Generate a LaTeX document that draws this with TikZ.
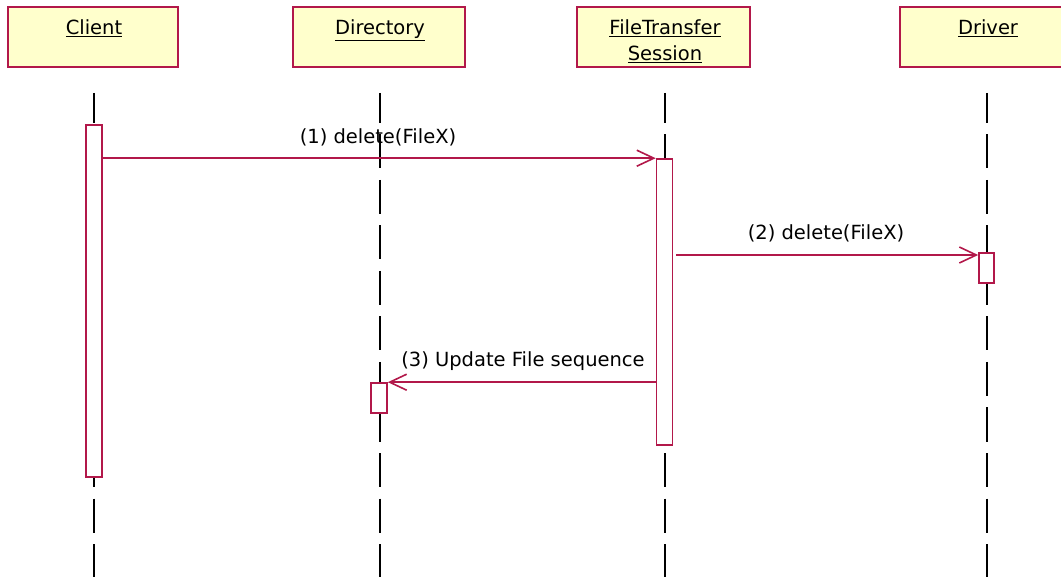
\documentclass[tikz,border=0pt]{standalone}
\usepackage{fontspec}
\setmainfont{DejaVu Sans}
\usetikzlibrary{arrows.meta}
\definecolor{umlred}{RGB}{178,24,74}
\definecolor{umlfill}{RGB}{255,255,204}
\tikzset{
  objbox/.style={draw=umlred, fill=umlfill, line width=1.6pt, minimum height=60pt, inner sep=0pt},
  objlabel/.style={font=\fontsize{19.5}{26}\selectfont, anchor=base, inner sep=0pt, align=center},
  lifeline/.style={draw=black, line width=1.6pt, dash pattern=on 34pt off 11.5pt, dash phase=4pt},
  actbar/.style={draw=umlred, fill=white, line width=1.6pt, minimum width=16pt, inner sep=0pt},
  msg/.style={draw=umlred, line width=1.6pt, -{Straight Barb[length=17pt, width=16pt, line width=1.6pt]}},
  msglabel/.style={font=\fontsize{19.5}{24}\selectfont, anchor=base, inner sep=0pt}
}
\begin{document}
\begin{tikzpicture}[x=1pt, y=-1pt]
  \useasboundingbox (0,0) rectangle (1061,577);
  \clip (0,0) rectangle (1061,577);

  % object headers
  \node[objbox, minimum width=170pt] (client) at (93,37) {};
  \node[objbox, minimum width=172pt] (dir) at (379,37) {};
  \node[objbox, minimum width=173pt] (fts) at (663.5,37) {};
  \node[objbox, minimum width=176pt] (drv) at (988,37) {};

  \node[objlabel] (clientlbl) at (94,34.5) {\underline{Client}};
  \node[objlabel] (dirlbl) at (380,34.5) {\underline{Directory}};
  \node[objlabel] (ftslbl) at (665,34.5) {\underline{FileTransfer}};
  \node[objlabel] (ftslbl2) at (665,60.5) {\underline{Session}};
  \node[objlabel] (drvlbl) at (988,34.5) {\underline{Driver}};

  % lifelines
  \coordinate (clientTop) at (94,93);   \coordinate (clientEnd) at (94,577);
  \coordinate (dirTop) at (380,93);     \coordinate (dirEnd) at (380,577);
  \coordinate (ftsTop) at (665,93);     \coordinate (ftsEnd) at (665,577);
  \coordinate (drvTop) at (987,93);     \coordinate (drvEnd) at (987,577);
  \draw[lifeline] (clientTop) -- (clientEnd);
  \draw[lifeline] (dirTop) -- (dirEnd);
  \draw[lifeline] (ftsTop) -- (ftsEnd);
  \draw[lifeline] (drvTop) -- (drvEnd);

  % activation bars
  \node[actbar, minimum height=352pt] (clientbar) at (94,301) {};
  \node[actbar, minimum height=286pt] (ftsbar) at (664.5,302) {};
  \node[actbar, minimum width=15pt, minimum height=30pt] (drvbar) at (986.5,268) {};
  \node[actbar, minimum height=30pt] (dirbar) at (379,398) {};

  % messages
  \coordinate (m2start) at (676,255);
  \draw[msg] (clientbar.east |- ftsbar.north) -- (ftsbar.north west);
  \draw[msg] (m2start) -- (drvbar.west |- m2start);
  \draw[msg] (ftsbar.west |- dirbar.north) -- (dirbar.north east);

  \node[msglabel] (m1lbl) at (378,144) {(1)\ delete(FileX)};
  \node[msglabel] (m2lbl) at (826,240) {(2)\ delete(FileX)};
  \node[msglabel] (m3lbl) at (523,367) {(3)\ Update File sequence};
\end{tikzpicture}
\end{document}
